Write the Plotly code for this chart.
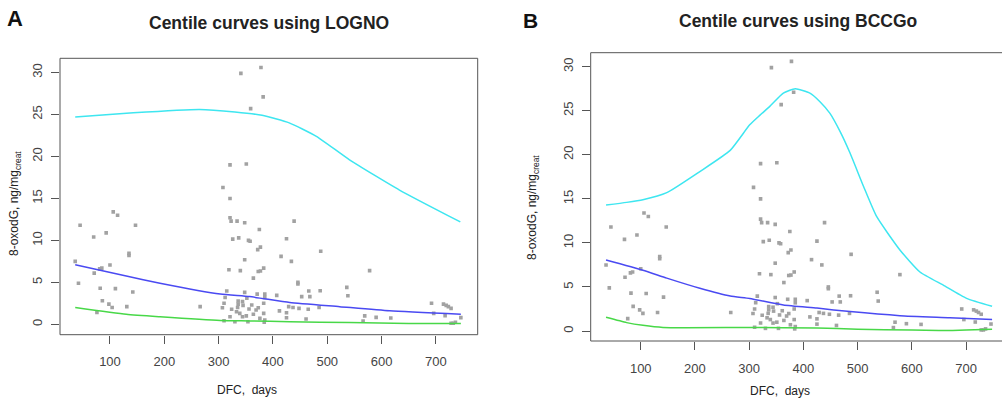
import plotly.graph_objects as go

W, H = 1002, 401
FONT = "Liberation Sans, Arial, sans-serif"

# ---- observed points (DFC days, 8-oxodG) ----
obs_x = [106, 114, 45, 147, 70, 93, 135, 135, 36, 100, 85, 81, 71, 42, 82, 110, 142, 86, 98, 104, 131, 76, 266,
         321, 351, 308, 321, 321, 323, 334, 348, 439, 375, 326, 337, 355, 358, 425, 377, 372, 348, 415, 434,
         319, 340, 383, 373, 377, 364, 446, 446, 315, 453, 348, 371, 385, 407, 312, 336, 352, 385, 310, 336,
         345, 361, 383, 429, 437, 307, 324, 356, 369, 373, 333, 339, 351, 364, 383, 425, 321, 344, 310, 330,
         354, 425, 376, 384, 335, 344,
         488, 578, 536, 538, 466, 487, 468, 465, 485, 461, 569, 566, 590, 617, 692, 696, 714, 719, 723, 728,
         717, 746, 728, 736, 732, 448, 412, 385,
         341, 378, 382, 359]
obs_y = [13.4, 13.0, 11.8, 11.8, 10.4, 10.9, 8.45, 8.2, 7.5, 7.06, 6.7, 6.6, 6.1, 4.9, 4.3, 4.25, 3.85, 2.8, 2.4, 2.0, 2.1, 1.4, 2.1,
         19.0, 19.1, 16.3, 15.0, 12.7, 12.3, 12.3, 12.1, 12.3, 11.3, 10.15, 10.3, 10.0, 9.9, 10.2, 9.2, 8.9, 7.7, 8.1, 7.5,
         6.5, 6.4, 6.7, 6.3, 6.35, 5.5, 5.0, 4.8, 3.96, 3.3, 3.8, 3.6, 3.6, 3.45, 3.2, 2.77, 3.1, 3.2, 2.5, 2.4,
         2.26, 2.3, 2.5, 2.1, 2.0, 1.98, 1.79, 1.82, 1.7, 1.98, 1.5, 1.3, 1.0, 1.2, 1.3, 1.38, 0.9, 0.9, 0.43, 0.3,
         0.3, 0.78, 0.71, 0.24, 2.0, 2.7,
         8.7, 6.4, 4.4, 3.4, 3.96, 4.0, 3.3, 1.8, 2.0, 0.63, 1.0, 0.39, 0.83, 0.75, 2.5, 1.3, 2.4, 2.26, 2.1, 1.9,
         1.02, 0.79, 0.12, 0.24, 0.12, 1.9, 1.6, 0.5,
         29.9, 30.6, 27.1, 25.7]

# ---- Panel A: LOGNO centile curves ----
a_hi_x = [36, 143, 265, 330, 380, 430, 480, 541, 633, 745]
a_hi_y = [24.7, 25.2, 25.6, 25.3, 24.9, 24.0, 22.4, 19.6, 16.0, 12.2]
a_mid_x = [36, 130, 192, 303, 357, 431, 523, 615, 746]
a_mid_y = [7.1, 5.75, 4.9, 3.6, 3.3, 2.6, 2.1, 1.6, 1.2]
a_lo_x = [36, 130, 192, 303, 357, 431, 541, 650, 746]
a_lo_y = [2.0, 1.2, 0.9, 0.45, 0.4, 0.3, 0.2, 0.1, 0.1]

# ---- Panel B: BCCGo centile curves ----
b_hi_x = [36, 74, 104, 148, 209, 265, 301, 320, 338, 363, 385, 412, 431, 449, 468, 486, 511, 535, 578, 615, 658, 701, 748]
b_hi_y = [14.3, 14.6, 14.9, 15.7, 18.1, 20.5, 23.4, 24.5, 25.5, 27.0, 27.5, 27.0, 26.0, 24.7, 22.6, 20.2, 16.4, 13.0, 9.2, 6.7, 5.2, 3.7, 2.8]
b_mid_x = [36, 104, 148, 209, 265, 301, 363, 425, 486, 578, 670, 748]
b_mid_y = [8.06, 6.9, 6.0, 4.85, 3.97, 3.7, 2.95, 2.6, 2.2, 1.74, 1.51, 1.3]
b_lo_x = [36, 74, 104, 141, 300, 425, 500, 600, 650, 700, 748]
b_lo_y = [1.55, 0.95, 0.64, 0.4, 0.4, 0.35, 0.2, 0.1, 0.05, 0.1, 0.2]

x_ticks = [100, 200, 300, 400, 500, 600, 700]
y_ticks = [0, 5, 10, 15, 20, 25, 30]

titles = ["Centile curves using LOGNO", "Centile curves using BCCGo"]
panel_letters = ["A", "B"]
x_title = "DFC,  days"
y_title = "8-oxodG, ng/mg<sub>creat</sub>"

CYAN, BLUE, GREEN, PT = "#3ee6f0", "#4a4af2", "#48d848", "#a2a2a2"

fig = go.Figure()
for xa, ya, hx, hy, mx, my, lx, ly in [
    ("x", "y", a_hi_x, a_hi_y, a_mid_x, a_mid_y, a_lo_x, a_lo_y),
    ("x2", "y2", b_hi_x, b_hi_y, b_mid_x, b_mid_y, b_lo_x, b_lo_y),
]:
    fig.add_trace(go.Scatter(x=obs_x, y=obs_y, mode="markers", xaxis=xa, yaxis=ya,
                             marker=dict(symbol="square", size=3.6, color=PT), showlegend=False))
    for cx, cy, col in [(hx, hy, CYAN), (mx, my, BLUE), (lx, ly, GREEN)]:
        fig.add_trace(go.Scatter(x=cx, y=cy, mode="lines", xaxis=xa, yaxis=ya,
                                 line=dict(color=col, width=1.5, shape="spline", smoothing=0.5),
                                 showlegend=False))

# panel geometry in pixels
A = dict(l=60, r=477.7, t=58.3, b=334.7)
B = dict(l=590.7, r=1006.5, t=52.7, b=341)

tickfont = dict(family=FONT, size=13, color="#444444")
common_x = dict(tickvals=x_ticks, ticks="outside", ticklen=8, tickcolor="#555555", tickwidth=1,
                showgrid=False, zeroline=False, showline=False, tickfont=tickfont, ticklabelstandoff=7)
common_y = dict(tickvals=y_ticks, ticks="outside", ticklen=8, tickcolor="#555555", tickwidth=1,
                showgrid=False, zeroline=False, showline=False, tickfont=tickfont, tickangle=-90,
                ticklabelstandoff=4)

fig.update_layout(
    width=W, height=H, margin=dict(l=0, r=0, t=0, b=0),
    paper_bgcolor="white", plot_bgcolor="white",
    xaxis=dict(domain=[A["l"] / W, A["r"] / W], range=[8, 777], anchor="y", **common_x),
    yaxis=dict(domain=[1 - A["b"] / H, 1 - A["t"] / H], range=[-1.24, 31.70], anchor="x", **common_y),
    xaxis2=dict(domain=[B["l"] / W, 1.0], range=[7.7, 766.3], anchor="y2", **common_x),
    yaxis2=dict(domain=[1 - B["b"] / H, 1 - B["t"] / H], range=[-1.135, 31.59], anchor="x2", **common_y),
)

# boxes
for P in (A, B):
    fig.add_shape(type="rect", xref="paper", yref="paper",
                  x0=P["l"] / W, x1=P["r"] / W, y0=1 - P["b"] / H, y1=1 - P["t"] / H,
                  line=dict(color="#555555", width=1), fillcolor="rgba(0,0,0,0)", layer="above")

def ann(text, x, y, size, bold=False, angle=0, color="#222222"):
    fig.add_annotation(text=f"<b>{text}</b>" if bold else text, x=x / W, y=1 - y / H,
                       xref="paper", yref="paper", showarrow=False, textangle=angle,
                       xanchor="center", yanchor="middle",
                       font=dict(family=FONT, size=size, color=color))

ann(panel_letters[0], 15, 18.5, 22, bold=True, color="#111111")
ann(panel_letters[1], 530, 20.7, 21, bold=True, color="#111111")
ann(titles[0], 268.5, 22.7, 17.5, bold=True)
ann(titles[1], 798, 20.7, 17.5, bold=True)
ann(x_title, 246.7, 390, 12)
ann(x_title, 780, 391, 12)
ann(y_title, 15, 204, 12, angle=-90)
ann(y_title, 533, 208, 12, angle=-90)

fig.write_html("out.html")
